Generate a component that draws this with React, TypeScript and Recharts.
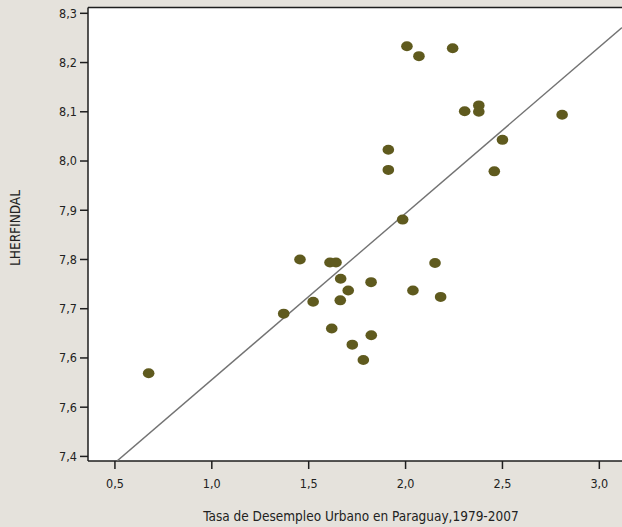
import { ScatterChart, Scatter, XAxis, YAxis, CartesianGrid, ReferenceLine } from 'recharts';

// Tasa de desempleo urbano (x) vs LHERFINDAL (y), 1979-2007
const unemployment = [
  0.674, 1.371, 1.455, 1.523, 1.61, 1.641, 1.665, 1.663, 1.704, 1.822,
  1.619, 1.823, 1.725, 1.782, 1.985, 1.911, 1.911, 2.007, 2.069, 2.243,
  2.038, 2.152, 2.181, 2.305, 2.378, 2.378, 2.5, 2.458, 2.808,
];
const lherfindal = [
  7.569, 7.69, 7.8, 7.714, 7.794, 7.794, 7.761, 7.717, 7.737, 7.754,
  7.66, 7.646, 7.627, 7.596, 7.881, 8.023, 7.982, 8.233, 8.213, 8.229,
  7.737, 7.793, 7.724, 8.101, 8.113, 8.1, 8.043, 7.979, 8.094,
];

// fitted line end points
const fitX = [0.512, 3.117];
const fitY = [7.391, 8.271];

const xTicks = [0.5, 1.0, 1.5, 2.0, 2.5, 3.0];
const xTickLabels = ['0,5', '1,0', '1,5', '2,0', '2,5', '3,0'];
const yTicks = [7.4, 7.5, 7.6, 7.7, 7.8, 7.9, 8.0, 8.1, 8.2, 8.3];
const yTickLabels = ['7,4', '7,6', '7,6', '7,7', '7,8', '7,9', '8,0', '8,1', '8,2', '8,3'];

const X_DOMAIN = [0.361, 3.117];
const Y_DOMAIN = [7.3907, 8.3118];

const FONT = '"Liberation Sans Narrow", "DejaVu Sans Condensed", "Roboto Condensed", sans-serif';
const DOT = '#5f5a1e';
const AXIS = '#1e1e1e';

const points = unemployment.map((x, i) => ({ x, y: lherfindal[i] }));
const fitLine = fitX.map((x, i) => ({ x, y: fitY[i] }));

function Dot(props: any) {
  const { cx, cy } = props;
  if (cx == null || cy == null) return <g />;
  return <ellipse cx={cx} cy={cy} rx={5.8} ry={5} fill={DOT} />;
}

export default function App() {
  return (
    <div
      style={{
        position: 'absolute',
        left: 0,
        top: 0,
        width: 622,
        height: 527,
        background: '#e5e2dc',
        fontFamily: FONT,
      }}
    >
      <ScatterChart width={622} height={527} margin={{ top: 7.5, right: 0, bottom: 0, left: 0 }}>
        <CartesianGrid fill="#ffffff" horizontal={false} vertical={false} />
        <XAxis
          type="number"
          dataKey="x"
          domain={X_DOMAIN}
          allowDataOverflow
          ticks={xTicks}
          tickFormatter={(v, i) => xTickLabels[i]}
          height={66}
          tickSize={8}
          tickMargin={10}
          stroke={AXIS}
          strokeWidth={1.5}
          tick={{ fill: '#222', fontSize: 12.5, fontFamily: FONT }}
          label={{
            content: () => (
              <text x={361} y={516} textAnchor="middle" dominantBaseline="central" fill="#222" fontSize={13.5} fontFamily={FONT}>
                Tasa de Desempleo Urbano en Paraguay,1979-2007
              </text>
            ),
          }}
        />
        <YAxis
          type="number"
          dataKey="y"
          domain={Y_DOMAIN}
          allowDataOverflow
          ticks={yTicks}
          tickFormatter={(v, i) => yTickLabels[i]}
          width={88}
          tickSize={8}
          tickMargin={3}
          stroke={AXIS}
          strokeWidth={1.5}
          tick={{ fill: '#222', fontSize: 12.5, fontFamily: FONT }}
          label={{
            content: () => (
              <text
                x={15}
                y={228}
                transform="rotate(-90 15 228)"
                textAnchor="middle"
                dominantBaseline="central"
                fill="#222"
                fontSize={13.5}
                fontFamily={FONT}
              >
                LHERFINDAL
              </text>
            ),
          }}
        />
        <ReferenceLine y={Y_DOMAIN[1]} stroke={AXIS} strokeWidth={1.5} />
        <Scatter
          data={fitLine}
          line={{ stroke: '#737373', strokeWidth: 1.4 }}
          shape={() => <g />}
          isAnimationActive={false}
        />
        <Scatter data={points} shape={<Dot />} isAnimationActive={false} />
      </ScatterChart>
    </div>
  );
}
